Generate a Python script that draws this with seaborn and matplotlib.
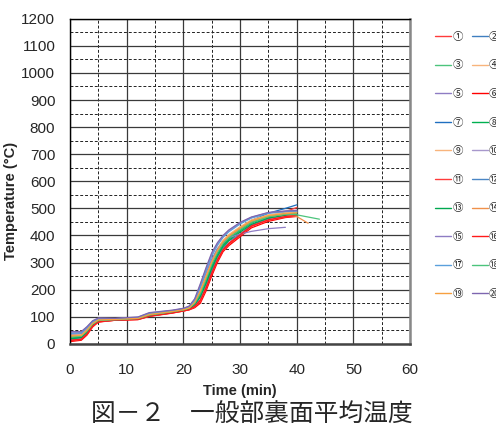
import numpy as np
import pandas as pd
import matplotlib
matplotlib.use("Agg")
from matplotlib import pyplot as plt
from matplotlib.ticker import MultipleLocator
import seaborn as sns

nan = np.nan

# time points (min)
times = [0, 2, 3, 4, 5, 8, 12, 14, 18, 20, 21, 22, 23, 24, 25, 26, 27, 28, 30, 32, 35, 38, 40, 42, 44]

# back-surface temperatures (°C) for the 20 thermocouples
s01 = [14, 18, 38, 66, 82, 88, 91, 103, 115, 123, 128, 139, 163, 210, 265, 312, 350, 372, 405, 438, 465, 488, 503, nan, nan]
s02 = [28, 31, 51, 75, 88, 91, 94, 108, 120, 127, 133, 153, 195, 248, 303, 346, 378, 398, 428, 455, 474, 482, 488, nan, nan]
s03 = [20, 25, 44, 71, 85, 89, 93, 106, 118, 125, 130, 146, 178, 228, 283, 328, 363, 385, 416, 446, 470, 482, 478, nan, nan]
s04 = [32, 34, 53, 77, 89, 91, 95, 109, 120, 127, 134, 155, 198, 252, 306, 348, 380, 400, 430, 456, 475, 483, 485, nan, nan]
s05 = [40, 42, 60, 82, 92, 92, 97, 112, 122, 129, 137, 161, 213, 272, 327, 366, 395, 416, 445, 466, 483, 489, 490, nan, nan]
s06 = [8, 13, 32, 62, 80, 87, 89, 101, 113, 121, 125, 133, 150, 195, 250, 300, 340, 362, 395, 428, 452, 466, 470, nan, nan]
s07 = [23, 27, 46, 72, 86, 89, 93, 106, 118, 125, 131, 149, 186, 238, 292, 336, 370, 392, 425, 455, 482, 500, 513, nan, nan]
s08 = [21, 26, 45, 71, 85, 89, 93, 105, 117, 124, 130, 147, 182, 233, 287, 332, 366, 388, 419, 447, 469, 480, 483, nan, nan]
s09 = [33, 35, 54, 78, 89, 91, 95, 110, 120, 127, 134, 156, 200, 255, 310, 351, 383, 403, 432, 457, 476, 484, 487, nan, nan]
s10 = [43, 44, 62, 84, 94, 93, 98, 114, 123, 130, 138, 164, 218, 277, 332, 370, 398, 418, 447, 467, 484, 490, 493, nan, nan]
s11 = [11, 16, 35, 64, 81, 87, 90, 102, 114, 121, 126, 136, 157, 203, 258, 306, 345, 367, 400, 433, 456, 468, 472, nan, nan]
s12 = [17, 22, 41, 69, 83, 88, 92, 104, 116, 123, 129, 143, 172, 220, 268, 322, 352, 380, 402, 440, 462, 474, 478, nan, nan]
s13 = [18, 23, 42, 70, 84, 88, 92, 104, 116, 123, 129, 144, 174, 223, 277, 323, 359, 381, 412, 441, 464, 475, 478, nan, nan]
s14 = [26, 29, 48, 74, 87, 90, 94, 107, 119, 126, 132, 151, 190, 243, 297, 340, 373, 394, 424, 450, 470, 478, 470, 445, nan]
s15 = [36, 38, 57, 80, 91, 92, 96, 111, 121, 128, 135, 159, 208, 262, 312, 350, 375, 392, 405, 415, 425, 430, nan, nan, nan]
s16 = [12, 17, 36, 65, 81, 87, 90, 102, 114, 121, 126, 138, 160, 206, 261, 309, 347, 369, 402, 435, 458, 470, 474, nan, nan]
s17 = [38, 40, 59, 81, 91, 92, 97, 112, 122, 129, 136, 160, 211, 269, 324, 363, 393, 413, 442, 464, 482, 488, 490, nan, nan]
s18 = [24, 28, 47, 73, 86, 89, 93, 106, 118, 125, 131, 149, 185, 237, 292, 336, 370, 391, 421, 448, 469, 479, 476, 468, 460]
s19 = [29, 31, 50, 75, 88, 90, 94, 108, 119, 126, 132, 153, 195, 248, 302, 345, 377, 398, 428, 454, 473, 481, 483, nan, nan]
s20 = [45, 45, 63, 85, 95, 94, 99, 115, 124, 131, 139, 166, 222, 281, 336, 373, 400, 420, 448, 468, 485, 490, 492, nan, nan]

series = [s01, s02, s03, s04, s05, s06, s07, s08, s09, s10,
          s11, s12, s13, s14, s15, s16, s17, s18, s19, s20]
labels = ["①", "②", "③", "④", "⑤", "⑥", "⑦", "⑧", "⑨", "⑩",
          "⑪", "⑫", "⑬", "⑭", "⑮", "⑯", "⑰", "⑱", "⑲", "⑳"]
colors = ["#FF3B3B", "#3F7FC0", "#4CC47C", "#F8B47C", "#8E7CC3",
          "#FF0000", "#1F6FC0", "#00B050", "#F8B47C", "#A898CC",
          "#FF3B3B", "#4A86C5", "#00A850", "#F0914A", "#8E7CC3",
          "#FF1A1A", "#5BA0DC", "#4CC47C", "#F7A040", "#7E66B0"]

rows = []
for lab, vals in zip(labels, series):
    for t, v in zip(times, vals):
        if not np.isnan(v):
            rows.append({"time": t, "temp": v, "ch": lab})
df = pd.DataFrame(rows)

sns.set_style("white")
plt.rcParams["font.family"] = ["Liberation Sans Narrow", "Liberation Sans", "DejaVu Sans"]

fig = plt.figure(figsize=(4.96, 4.26), dpi=100)
ax = fig.add_axes([0.141, 0.193, 0.686, 0.763])

sns.lineplot(data=df, x="time", y="temp", hue="ch", palette=colors,
             hue_order=labels, linewidth=0.9, ax=ax, legend=True, sort=True)

ax.set_xlim(0, 60)
ax.set_ylim(0, 1200)
ax.xaxis.set_major_locator(MultipleLocator(10))
ax.xaxis.set_minor_locator(MultipleLocator(5))
ax.yaxis.set_major_locator(MultipleLocator(100))
ax.yaxis.set_minor_locator(MultipleLocator(50))
ax.grid(which="major", color="#3a3a3a", linewidth=0.9, linestyle="-")
ax.grid(which="minor", color="#222222", linewidth=0.7, linestyle=(0, (3, 2)))
ax.set_axisbelow(True)

ax.tick_params(axis="y", which="major", direction="in", length=3, pad=10.5, labelsize=11)
ax.tick_params(axis="x", which="major", length=0, pad=13.5, labelsize=11)
ax.tick_params(which="minor", length=0)

for side in ["left", "top"]:
    ax.spines[side].set_color("black")
    ax.spines[side].set_linewidth(1.0)
ax.spines["bottom"].set_color("#444444")
ax.spines["bottom"].set_linewidth(1.8)
ax.spines["right"].set_color("#888888")
ax.spines["right"].set_linewidth(1.8)

ax.set_xlabel("Time (min)", fontsize=10.5, fontweight="bold")
ax.set_ylabel("Temperature (°C)", fontsize=10.5, fontweight="bold")
ax.xaxis.set_label_coords(0.5, -0.125)
ax.yaxis.set_label_coords(-0.153, 0.44)

# legend laid out row-wise: ① ② / ③ ④ ...
handles, labs = ax.get_legend_handles_labels()
ax.get_legend().remove()
order = list(range(0, 20, 2)) + list(range(1, 20, 2))
leg = fig.legend([handles[i] for i in order], [labs[i] for i in order],
                 loc="upper left", bbox_to_anchor=(0.858, 0.947), ncol=2,
                 frameon=False, handlelength=1.5, handletextpad=0.15,
                 columnspacing=0.9, labelspacing=1.78,
                 prop={"family": ["Noto Sans CJK JP", "DejaVu Sans"], "size": 7.5})
for h in leg.get_lines():
    h.set_linewidth(1.0)

fig.text(0.507, 0.027, "図－２　一般部裏面平均温度", ha="center", va="center",
         fontsize=17.8, fontweight="normal", family=["Noto Sans CJK JP", "DejaVu Sans"])

fig.savefig("out.png", dpi=100)
